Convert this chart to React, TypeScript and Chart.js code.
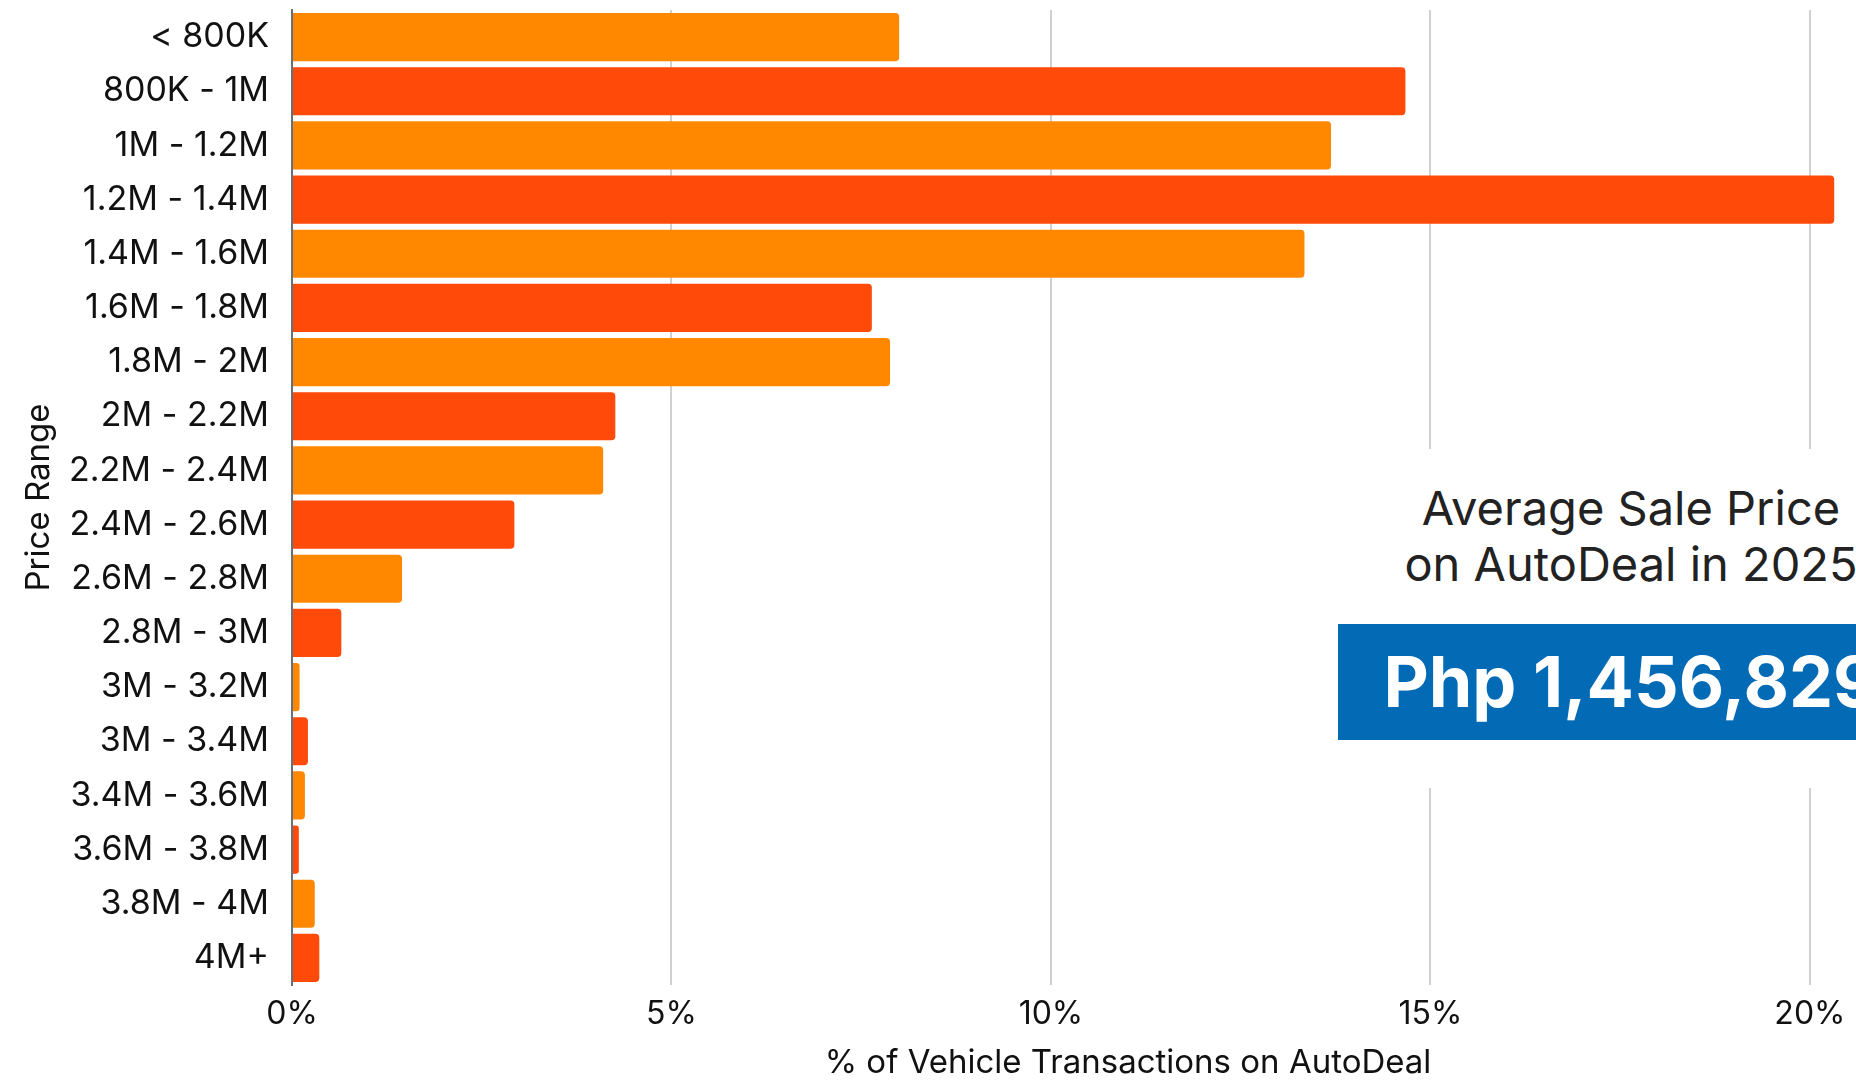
import React, { useEffect, useRef } from "react";
import { Chart, registerables } from "chart.js";

Chart.register(...registerables);

const categories = [
  "< 800K",
  "800K - 1M",
  "1M - 1.2M",
  "1.2M - 1.4M",
  "1.4M - 1.6M",
  "1.6M - 1.8M",
  "1.8M - 2M",
  "2M - 2.2M",
  "2.2M - 2.4M",
  "2.4M - 2.6M",
  "2.6M - 2.8M",
  "2.8M - 3M",
  "3M - 3.2M",
  "3M - 3.4M",
  "3.4M - 3.6M",
  "3.6M - 3.8M",
  "3.8M - 4M",
  "4M+",
];

const shares = [
  8.0, 14.67, 13.69, 20.32, 13.34, 7.64, 7.88, 4.26, 4.1, 2.93, 1.45, 0.65,
  0.1, 0.21, 0.17, 0.09, 0.3, 0.36,
];

const barColors = ["#FF8800", "#FF4A0A"];
const xTicks = [0, 5, 10, 15, 20];
const xMax = 22.03;

const xTitle = "% of Vehicle Transactions on AutoDeal";
const yTitle = "Price Range";
const annotationLines = ["Average Sale Price", "on AutoDeal in 2025"];
const annotationValue = "Php 1,456,829";

const FONT = "Inter, 'Noto Sans', sans-serif";

export default function App() {
  const canvasRef = useRef<HTMLCanvasElement | null>(null);

  useEffect(() => {
    if (!canvasRef.current) return;
    const chart = new Chart(canvasRef.current, {
      type: "bar",
      data: {
        labels: categories,
        datasets: [
          {
            data: shares,
            backgroundColor: shares.map((_, i) => barColors[i % 2]),
            borderRadius: 4,
            barPercentage: 0.89,
            categoryPercentage: 1,
          },
        ],
      },
      options: {
        indexAxis: "y",
        animation: false,
        responsive: true,
        maintainAspectRatio: false,
        layout: { padding: { top: 10, right: 8, left: 0, bottom: 0 } },
        plugins: {
          legend: { display: false },
          tooltip: { enabled: false },
        },
        scales: {
          x: {
            type: "linear",
            min: 0,
            max: xMax,
            afterBuildTicks: (axis: any) => {
              axis.ticks = xTicks.map((v) => ({ value: v }));
            },
            afterFit: (scale: any) => {
              scale.height = 96;
            },
            grid: {
              color: (ctx: any) =>
                ctx.tick && ctx.tick.value === 0 ? "rgba(0,0,0,0)" : "#d0d0d0",
              lineWidth: 2,
              drawTicks: false,
            },
            border: { display: false },
            ticks: {
              padding: 10,
              color: "#111",
              font: { family: FONT, size: 32 },
              callback: (v: any) => `${v}%`,
            },
            title: {
              display: true,
              text: xTitle,
              color: "#111",
              font: { family: FONT, size: 33, lineHeight: 1 },
              padding: { top: 0, bottom: 1 },
            },
          },
          y: {
            type: "category",
            afterFit: (scale: any) => {
              scale.width = 292;
              scale.paddingTop = 0;
              scale.paddingBottom = 0;
            },
            grid: { display: false, drawTicks: false },
            border: { display: true, color: "#66707c", width: 2 },
            ticks: {
              padding: 23,
              color: "#111",
              font: { family: FONT, size: 34 },
              autoSkip: false,
            },
            title: {
              display: true,
              text: yTitle,
              color: "#111",
              font: { family: FONT, size: 33 },
              padding: { top: 19, bottom: 0 },
            },
          },
        },
      },
    });
    return () => chart.destroy();
  }, []);

  return (
    <div
      style={{
        position: "fixed",
        left: 0,
        top: 0,
        width: 1856,
        height: 1081,
        overflow: "hidden",
        background: "#fff",
      }}
    >
      <div style={{ position: "absolute", left: 0, top: 0, width: 1972, height: 1081 }}>
        <canvas ref={canvasRef} />
      </div>
      <div
        style={{
          position: "absolute",
          left: 1338,
          top: 449,
          width: 586,
          height: 339,
          background: "#fff",
          boxSizing: "border-box",
          paddingTop: 31,
          fontFamily: FONT,
          textAlign: "center",
        }}
      >
        <div style={{ fontSize: 47, lineHeight: "56px", color: "#222", whiteSpace: "nowrap" }}>
          {annotationLines.map((l, i) => (
            <div key={i}>{l}</div>
          ))}
        </div>
        <div
          style={{
            marginTop: 32,
            height: 116,
            lineHeight: "116px",
            background: "#036BB5",
            color: "#fff",
            fontWeight: 700,
            fontSize: 70,
            whiteSpace: "nowrap",
          }}
        >
          {annotationValue}
        </div>
      </div>
    </div>
  );
}
